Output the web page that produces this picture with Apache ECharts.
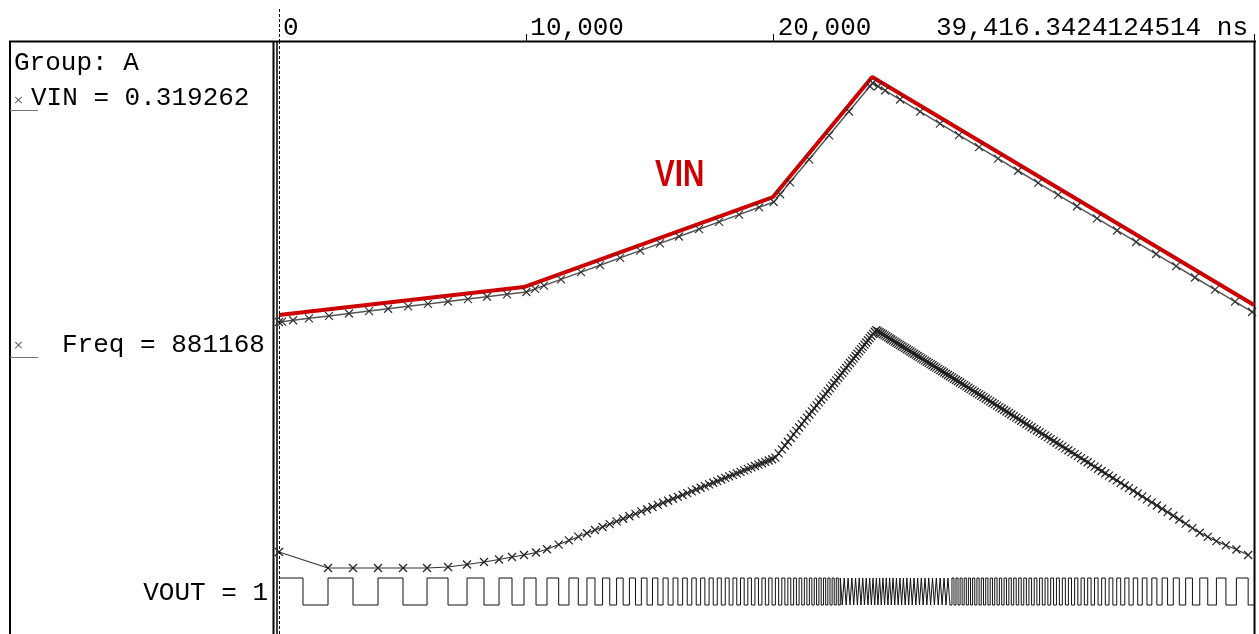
<!DOCTYPE html>
<html><head><meta charset="utf-8">
<script src="https://cdn.jsdelivr.net/npm/echarts@6/dist/echarts.min.js"></script>
<style>html,body{margin:0;padding:0;background:#fff;}#c{width:1259px;height:634px;}</style>
</head><body><div id="c"></div>
<script>
// ---------- data ----------
const X_MAX = 39416.3424124514;            // ns, end of the time window
const tickValues = [0, 10000, 20000];       // top axis ticks (ns)
const endLabel = '39,416.3424124514 ns';
const groupLabel = 'Group: A';
const vinReadout = 'VIN = 0.319262';
const freqReadout = 'Freq = 881168';
const voutReadout = 'VOUT = 1';
const annotText = 'VIN';

// VIN simulation samples (ns, V)
const vinTimes = [0,120,570,1210,2020,2830,3640,4410,5220,6020,6830,7640,8410,9220,10000,
  10350,10710,11400,12210,12980,13790,14600,15400,16170,16980,17790,18600,19410,20000,
  20260,20660,21430,22240,23040,23890,24000,
  24220,24500,25110,25920,26720,27490,28300,29070,29880,30690,31500,32260,33070,33880,34650,35460,36270,37030,37840,38650,39340];
const vinValues = [0.3193,0.3205,0.3250,0.3314,0.3395,0.3476,0.3557,0.3634,0.3715,0.3795,0.3876,0.3957,0.4034,0.4115,0.4193,
  0.4298,0.4406,0.4613,0.4856,0.5087,0.5330,0.5573,0.5813,0.6044,0.6287,0.6530,0.6773,0.7016,0.7193,
  0.7451,0.7848,0.8612,0.9415,1.0209,1.1052,1.1160,
  1.1050,1.0911,1.0608,1.0205,0.9807,0.9423,0.9020,0.8637,0.8234,0.7831,0.7428,0.7050,0.6647,0.6244,0.5861,0.5458,0.5054,0.4676,0.4273,0.3870,0.3527];

// hand-drawn red VIN annotation (ns, V)
const vinAnnotTimes = [0, 9900, 19970, 23980, 39416];
const vinAnnotValues = [0.3426, 0.4359, 0.7359, 1.1359, 0.3759];

// VOUT toggle times (ns); VOUT = 1 at t = 0
const voutEdges = [970,1981,2992,4003,5013,5984,6833,7601,8288,8895,9420,9905,10391,10835,
  11306,11722,12100,12449,12774,13081,13371,13648,13913,14167,14412,14649,14878,15100,15316,15526,15731,15931,16126,16317,
  16504,16688,16867,17044,17217,17387,17555,17719,17881,18041,18198,18353,18506,18657,18806,18953,19098,19241,19383,19523,
  19661,19798,19933,20067,
  20199,20327,20451,20572,20690,20805,20917,21026,21133,21238,21341,21442,21541,21638,21733,21827,21919,22010,22100,22188,
  22275,22361,22445,22528,22610,22691,22771,22850,22929,23007,23084,23160,23235,23309,23383,23456,23528,23599,23670,23740,
  23810,23879,23947,24015,24082,24149,
  24215,24281,24348,24415,24482,24550,24618,24686,24754,24823,24892,24961,25031,25101,25171,25242,25313,25384,25456,25528,
  25600,25673,25746,25819,25893,25967,26041,26116,26191,26267,26343,26419,26496,26573,26651,26729,26807,26886,26965,27045,
  27125,27206,27287,27369,27451,27534,27617,27701,27785,27870,27955,28041,28128,28215,28303,28391,28480,28570,28660,28751,
  28843,28935,29028,29122,29217,29313,29409,29506,29604,29703,29803,29904,30006,30109,30213,30318,30424,30531,30639,30748,
  30858,30970,31083,31197,31313,31430,31548,31668,31790,31913,32038,32165,32294,32425,32558,32693,32830,32970,33112,33257,
  33405,33556,33710,33867,34028,34193,34362,34536,34715,34899,35089,35286,35490,35702,35923,36154,36397,36654,
  36928,37224,37547,37897,38281,38705,39180];

// Freq (kHz): first value at t = 0, then one value at each VOUT edge from the 2nd edge on
const freqValues = [881,
  454,454,454,454,454,481,547,614,681,748,801,868,956,
  1080,1190,1290,1382,1468,1549,1626,1699,1769,1836,1901,1964,2024,2083,2140,2195,2249,2302,2354,2404,
  2454,2502,2549,2596,2642,2687,2731,2774,2817,2860,2901,2942,2982,3022,3062,3100,3139,3177,3214,3251,3287,3324,3359,
  3403,3513,3620,3724,3825,3924,4020,4114,4205,4295,4383,4469,4553,4636,4717,4797,4875,4952,5028,5104,
  5177,5250,5322,5393,5462,5531,5598,5665,5731,5797,5863,5927,5991,6053,6115,6177,6239,6299,6358,6418,
  6476,6535,6593,6649,6706,6762,
  6803,6776,6749,6722,6694,6666,6638,6610,6582,6554,6525,6497,6468,6440,6411,6382,6353,6323,6294,6264,
  6235,6205,6174,6145,6114,6084,6053,6023,5992,5961,5929,5898,5867,5835,5803,5771,5739,5706,5674,5641,
  5608,5575,5542,5508,5474,5441,5406,5372,5337,5303,5268,5232,5197,5161,5125,5089,5052,5016,4979,4941,
  4904,4866,4828,4790,4751,4712,4672,4632,4592,4552,4511,4470,4428,4386,4343,4300,4257,4213,4169,4125,
  4080,4034,3988,3941,3894,3846,3798,3750,3700,3649,3599,3547,3495,3441,3387,3332,3277,3220,3162,3104,
  3044,2983,2920,2857,2792,2726,2658,2588,2516,2442,2366,2288,2207,2122,2035,1944,1848,1748,
  1639,1519,1394,1287,1172,1060,948,801];

// ---------- build series data ----------
const vinData = vinTimes.map((t, i) => [t, vinValues[i]]);
const annotData = vinAnnotTimes.map((t, i) => [t, vinAnnotValues[i]]);
const voutData = [[0, 1]];
let lvl = 1;
voutEdges.forEach(t => { lvl = 1 - lvl; voutData.push([t, lvl]); });
voutData.push([X_MAX, lvl]);
const freqData = [[0, freqValues[0]]];
for (let k = 1; k < voutEdges.length; k++) freqData.push([voutEdges[k], freqValues[k]]);

const MONO = '"Liberation Mono", "DejaVu Sans Mono", monospace';
const CROSS = 'path://M0,0L8,8M8,0L0,8';
const fmt = v => v === 0 ? '0' : v.toLocaleString('en-US');

const chart = echarts.init(document.getElementById('c'), null, {renderer: 'canvas'});
const topAxis = (extra) => Object.assign({
  type: 'value', min: 0, max: X_MAX, position: 'top', splitLine: {show: false},
  axisLine: {show: false, onZero: false}
}, extra);
chart.setOption({
  animation: false,
  backgroundColor: '#fff',
  grid: {left: 279, right: 5, top: 42, bottom: 0, containLabel: false},
  xAxis: [
    topAxis({
      axisTick: {show: true, customValues: tickValues.slice(1), length: 8, lineStyle: {color: '#000', width: 1}},
      axisLabel: {show: true, customValues: tickValues, formatter: fmt, align: 'left', verticalAlign: 'middle',
        margin: 14, padding: [0, 0, 0, 4], color: '#000', fontFamily: MONO, fontSize: 26}}),
    topAxis({
      axisTick: {show: true, customValues: [X_MAX], length: 8, lineStyle: {color: '#000', width: 1}},
      axisLabel: {show: true, customValues: [X_MAX], formatter: () => endLabel, align: 'right', verticalAlign: 'middle',
        margin: 14, padding: [0, 6, 0, 0], color: '#000', fontFamily: MONO, fontSize: 26}}),
    topAxis({
      axisLabel: {show: false},
      axisTick: {show: true, customValues: [0], length: 35, lineStyle: {color: '#000', width: 1, type: [3, 2]}}})
  ],
  yAxis: [
    {type: 'value', show: false, min: -0.7207, max: 1.2526},
    {type: 'value', show: false, min: -1308, max: 14498},
    {type: 'value', show: false, min: -1.074, max: 20.852}
  ],
  series: [
    {name: 'VIN', type: 'line', xAxisIndex: 0, yAxisIndex: 0, data: vinData,
     symbol: CROSS, symbolSize: 8, showSymbol: true, showAllSymbol: true,
     lineStyle: {color: '#555', width: 1.5},
     itemStyle: {color: 'none', borderColor: '#333', borderWidth: 1.2},
     markLine: {silent: true, symbol: 'none', label: {show: false},
       lineStyle: {color: '#000', width: 1, type: [3, 2]}, data: [{xAxis: 0}]}},
    {name: 'VIN annotation', type: 'line', xAxisIndex: 0, yAxisIndex: 0, data: annotData,
     symbol: 'none', lineStyle: {color: '#cc0000', width: 4}},
    {name: 'Freq', type: 'line', xAxisIndex: 0, yAxisIndex: 1, data: freqData,
     symbol: CROSS, symbolSize: 8, showSymbol: true, showAllSymbol: true,
     lineStyle: {color: '#333', width: 1.2},
     itemStyle: {color: 'none', borderColor: '#222', borderWidth: 1.2}},
    {name: 'VOUT', type: 'line', xAxisIndex: 0, yAxisIndex: 2, data: voutData, step: 'end',
     symbol: 'none', lineStyle: {color: '#111', width: 1}}
  ],
  graphic: [
    {type: 'line', shape: {x1: 9, y1: 41.5, x2: 1256, y2: 41.5}, style: {stroke: '#000', lineWidth: 2}},
    {type: 'line', shape: {x1: 10, y1: 41, x2: 10, y2: 634}, style: {stroke: '#000', lineWidth: 2}},
    {type: 'line', shape: {x1: 273.5, y1: 41, x2: 273.5, y2: 634}, style: {stroke: '#000', lineWidth: 2}},
    {type: 'line', shape: {x1: 277, y1: 41, x2: 277, y2: 634}, style: {stroke: '#000', lineWidth: 1.5}},
    {type: 'line', shape: {x1: 1254.5, y1: 41, x2: 1254.5, y2: 634}, style: {stroke: '#000', lineWidth: 2}},
    {type: 'text', style: {text: groupLabel, x: 14, y: 63, font: '26px ' + MONO, fill: '#000', textVerticalAlign: 'middle'}},
    {type: 'text', style: {text: vinReadout, x: 31, y: 98, font: '26px ' + MONO, fill: '#000', textVerticalAlign: 'middle'}},
    {type: 'text', style: {text: freqReadout, x: 62, y: 345, font: '26px ' + MONO, fill: '#000', textVerticalAlign: 'middle'}},
    {type: 'text', style: {text: voutReadout, x: 268, y: 593, font: '26px ' + MONO, fill: '#000', textAlign: 'right', textVerticalAlign: 'middle'}},
    {type: 'text', style: {text: '×', x: 13, y: 101, font: '13px "DejaVu Sans"', fill: '#666', textVerticalAlign: 'middle'}},
    {type: 'line', shape: {x1: 10, y1: 110.5, x2: 38, y2: 110.5}, style: {stroke: '#777', lineWidth: 1}},
    {type: 'text', style: {text: '×', x: 13, y: 346, font: '13px "DejaVu Sans"', fill: '#666', textVerticalAlign: 'middle'}},
    {type: 'line', shape: {x1: 10, y1: 357.5, x2: 38, y2: 357.5}, style: {stroke: '#777', lineWidth: 1}},
    {type: 'text', x: 655, y: 176, scaleX: 0.82, style: {text: annotText, x: 0, y: 0, font: 'bold 36px "Liberation Sans Narrow", "Liberation Sans", sans-serif', fill: '#cc0000', textVerticalAlign: 'middle'}}
  ]
});
</script></body></html>
